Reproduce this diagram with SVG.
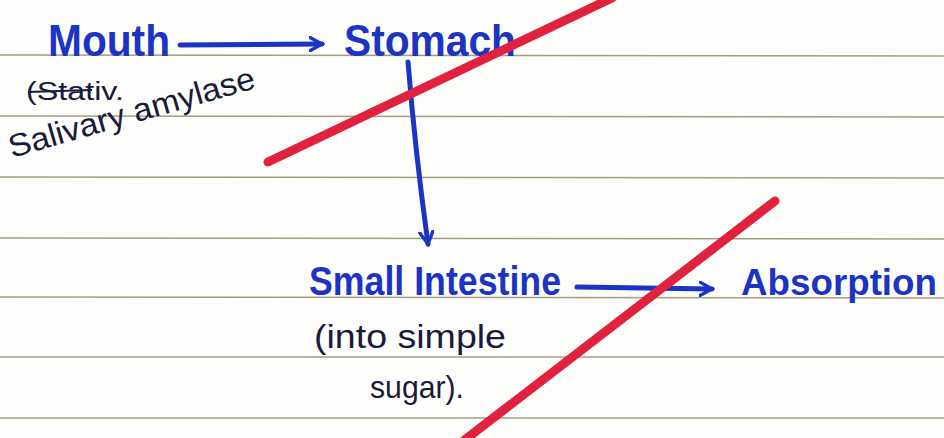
<svg xmlns="http://www.w3.org/2000/svg" width="944" height="438" viewBox="0 0 944 438">
<defs>
<style>
.node{font-family:"Liberation Sans",Arial,sans-serif;fill:#1c34c4;font-weight:bold;}
.note{font-family:"Liberation Sans",Arial,sans-serif;fill:#1a1a3a;}
.rule{stroke:#a39e80;stroke-width:1.5;}
.conn{stroke:#1c34c4;stroke-width:5;fill:none;stroke-linecap:round;}
.strike{stroke:#e0223f;stroke-width:9;stroke-linecap:round;}
</style>
<marker id="ah2" viewBox="0 0 12 12" refX="10" refY="6" markerWidth="16" markerHeight="16" orient="auto" markerUnits="userSpaceOnUse">
<path d="M1,1 L10,6 L1,11" fill="none" stroke="#1c34c4" stroke-width="2.5" stroke-linecap="round"/>
</marker>
</defs>
<rect width="944" height="438" fill="#fdfdfb"/>
<g id="rules">
<line class="rule" x1="0" y1="55" x2="944" y2="56"/>
<line class="rule" x1="0" y1="116" x2="944" y2="117"/>
<line class="rule" x1="0" y1="177" x2="944" y2="178"/>
<line class="rule" x1="0" y1="238" x2="944" y2="239"/>
<line class="rule" x1="0" y1="297" x2="944" y2="298"/>
<line class="rule" x1="0" y1="357" x2="944" y2="357"/>
<line class="rule" x1="0" y1="418" x2="944" y2="418"/>
</g>
<g id="connectors">
<line class="conn" x1="180" y1="45" x2="322" y2="44" marker-end="url(#ah2)"/>
<path class="conn" d="M408,62 Q415,150 428,244" stroke-width="3" marker-end="url(#ah2)"/>
<line class="conn" x1="577" y1="287" x2="712" y2="289" marker-end="url(#ah2)"/>
</g>
<g id="mouth"><text class="node" x="48" y="56" font-size="44" textLength="122" lengthAdjust="spacingAndGlyphs">Mouth</text></g>
<g id="stomach"><text class="node" x="344" y="56" font-size="44" textLength="172" lengthAdjust="spacingAndGlyphs">Stomach</text></g>
<g id="small-intestine"><text class="node" x="309" y="295" font-size="40" textLength="252" lengthAdjust="spacingAndGlyphs">Small Intestine</text></g>
<g id="absorption"><text class="node" x="741" y="295" font-size="36" textLength="196" lengthAdjust="spacingAndGlyphs">Absorption</text></g>
<g id="notes">
<text class="note" x="26" y="100" font-size="26" textLength="98" lengthAdjust="spacingAndGlyphs">(Stativ.</text>
<line x1="28" y1="92" x2="92" y2="90" stroke="#1a1a3a" stroke-width="2"/>
<text class="note" x="12" y="158" font-size="32" transform="rotate(-16 12 158)" textLength="255" lengthAdjust="spacingAndGlyphs">Salivary amylase</text>
<text class="note" x="314" y="348" font-size="34" textLength="192" lengthAdjust="spacingAndGlyphs">(into simple</text>
<text class="note" x="370" y="398" font-size="32" textLength="94" lengthAdjust="spacingAndGlyphs">sugar).</text>
</g>
<g id="strikes">
<line class="strike" x1="268" y1="162" x2="612" y2="-2"/>
<line class="strike" x1="775" y1="201" x2="462" y2="442"/>
</g>
</svg>
